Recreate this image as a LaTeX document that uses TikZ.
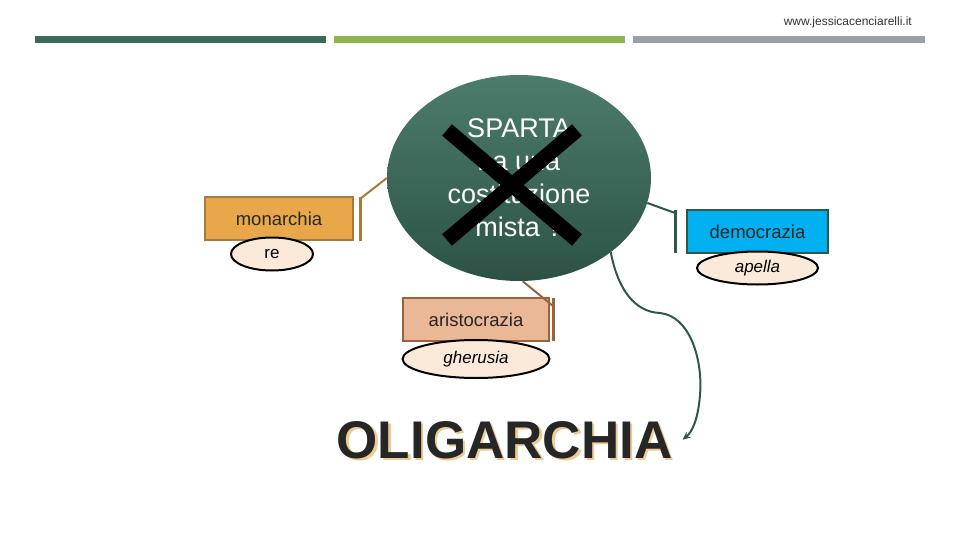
\documentclass[tikz,border=0pt]{standalone}
\usepackage{fontspec}
\setmainfont{Liberation Sans}
\usepackage{xcolor}
\definecolor{ColBar1}{RGB}{58,106,90}
\definecolor{ColBar2}{RGB}{141,181,79}
\definecolor{ColBar3}{RGB}{154,160,166}
\definecolor{ColTop}{RGB}{76,124,108}
\definecolor{ColBot}{RGB}{44,82,70}
\definecolor{ColMon}{RGB}{232,168,74}
\definecolor{ColMonD}{RGB}{166,124,62}
\definecolor{ColAri}{RGB}{234,184,150}
\definecolor{ColAriD}{RGB}{156,98,58}
\definecolor{ColDem}{RGB}{0,176,240}
\definecolor{ColDemD}{RGB}{46,88,74}
\definecolor{ColOrgan}{RGB}{251,234,218}
\definecolor{ColShadow}{RGB}{236,204,150}
\usepackage{tikz}
\usetikzlibrary{shapes.geometric}
\usetikzlibrary{arrows.meta}
\tikzstyle{Sparta}=[ellipse,top color=ColTop,bottom color=ColBot,
minimum width=264pt,minimum height=206pt,inner sep=0pt,text=white,
align=center,font=\fontsize{27}{33}\selectfont]
\tikzstyle{Cross}=[draw=black,line width=15pt]
\tikzstyle{Box}=[rectangle,line width=2.5pt,minimum width=146pt,
minimum height=43pt,inner sep=0pt,text=black!85,font=\fontsize{18.5}{20}\selectfont]
\tikzstyle{Organ}=[ellipse,draw=black,line width=2pt,fill=ColOrgan,
inner sep=0pt,minimum height=33pt,font=\fontsize{17}{19}\selectfont\itshape]
\tikzstyle{Edge}=[line width=2pt]
\tikzstyle{Bar}=[line width=3pt]
\tikzstyle{Olig}=[anchor=base,inner sep=10pt,font=\fontsize{53}{60}\selectfont\bfseries]

\begin{document}
\begin{tikzpicture}[x=1pt,y=-1pt]
        \useasboundingbox(0,0)rectangle(960,540);
        \fill[ColBar1](35,36)rectangle(326,43);
        \fill[ColBar2](334,36)rectangle(625,43);
        \fill[ColBar3](633,36)rectangle(925,43);
        \node[anchor=east,inner sep=0pt,text=black!80,font=\fontsize{12}{14}\selectfont](web)at(912,22){www.jessicacenciarelli.it};
        \node[Sparta](sparta)at(519,178){SPARTA\\ha una\\costituzione\\mista ?};
        \draw[Cross](447,130)--(577,240);
        \draw[Cross](577,130)--(447,240);
        \node[Box,fill=ColMon,draw=ColMonD,minimum width=148pt](mon)at(279,218.5){monarchia};
        \node[Box,fill=ColDem,draw=ColDemD,minimum width=141pt](dem)at(757.5,231.5){democrazia};
        \node[Box,fill=ColAri,draw=ColAriD](ari)at(476,319.5){aristocrazia};
        \node[Organ,minimum width=82pt,font=\fontsize{17}{19}\selectfont](re)at(272,254){re};
        \node[Organ,minimum width=121pt](apella)at(757.5,268){apella};
        \node[Organ,minimum width=147pt,minimum height=38pt](gherusia)at(476,359){gherusia};
        \coordinate(monT)at(360,199);
        \coordinate(monB)at(360,241);
        \coordinate(demT)at(675,213);
        \coordinate(demB)at(675,253);
        \coordinate(ariJ)at(553,306);
        \coordinate(ariT)at(553,298);
        \coordinate(ariB)at(553,341);
        \draw[Edge,ColMonD](sparta.180)--(monT);
        \draw[Bar,ColMonD]([yshift=2pt]monT)--(monB);
        \draw[Edge,ColDemD](sparta.-11)--(demT);
        \draw[Bar,ColDemD]([yshift=3pt]demT)--(demB);
        \draw[Edge,ColAriD](sparta.-88)--(ariJ);
        \draw[Bar,ColAriD](ariT)--(ariB);
        \node[Olig,text=ColShadow]at(507,460.5){OLIGARCHIA};
        \node[Olig,text=black!85](olig)at(504.5,458){OLIGARCHIA};
        \draw[Edge,ColDemD,-{Stealth[length=8pt,width=7pt]}](sparta.-39)
            ..controls(618,290)and(635,312)..(660,313)
            ..controls(690,316)and(703,360)..(700,395)
            ..controls(698,420)and(692,432)..(olig.east);
    \end{tikzpicture}
\end{document}
